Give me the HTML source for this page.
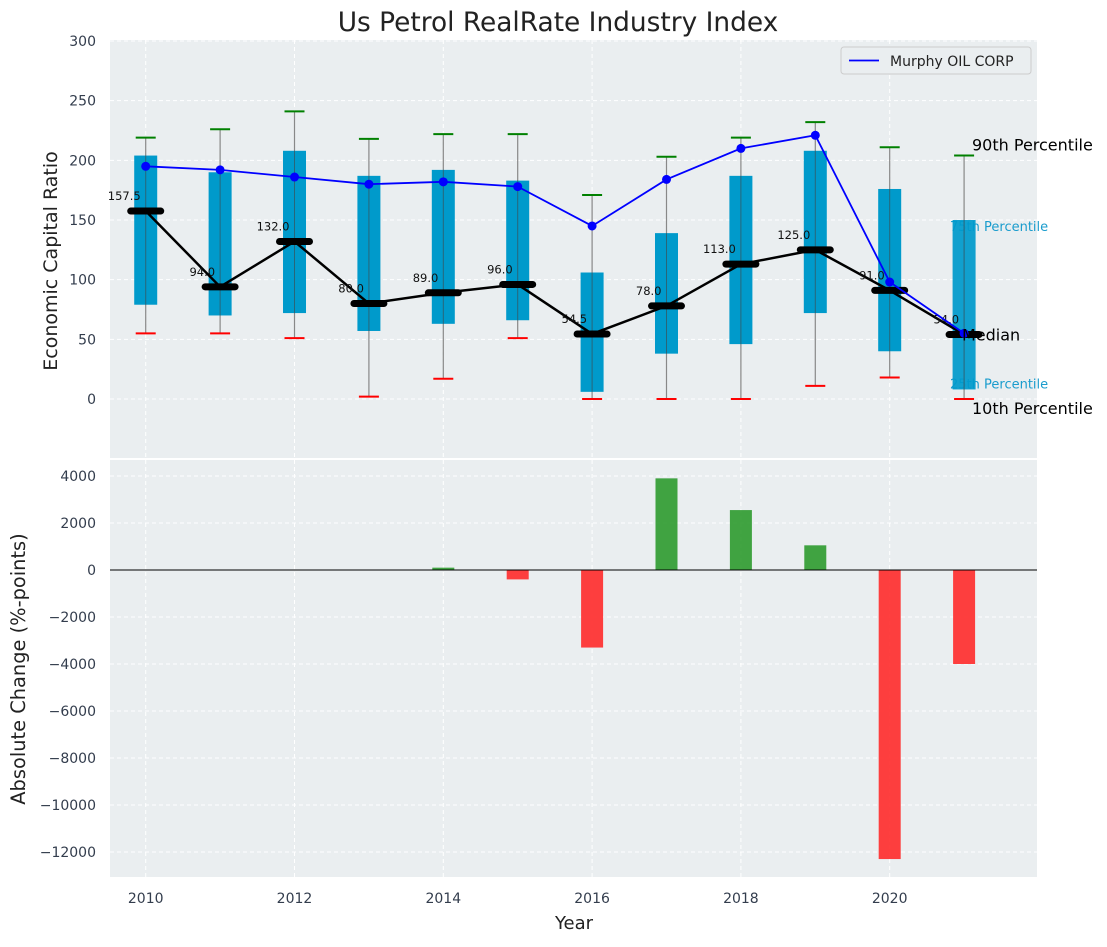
<!DOCTYPE html>
<html><head><meta charset="utf-8"><style>
body{margin:0;background:#fff;font-family:"Liberation Sans","DejaVu Sans",sans-serif}
svg text{font-family:"DejaVu Sans","Liberation Sans",sans-serif}
</style></head><body>
<svg id="c" width="1107" height="942" xmlns="http://www.w3.org/2000/svg"></svg>
<script>
const years=[2010,2011,2012,2013,2014,2015,2016,2017,2018,2019,2020,2021];
const boxLow=[79,70,72,57,63,66,6,38,46,72,40,8];
const boxHigh=[204,190,208,187,192,183,106,139,187,208,176,150];
const whiskLow=[55,55,51,2,17,51,0,0,0,11,18,0];
const whiskHigh=[219,226,241,218,222,222,171,203,219,232,211,204];
const medians=[157.5,94,132,80,89,96,54.5,78,113,125,91,54];
const murphy=[195,192,186,180,182,178,145,184,210,221,98,55];
const changes=[0,0,0,0,100,-400,-3300,3900,2550,1050,-12300,-4000];
const topTicks=[0,50,100,150,200,250,300];
const botTicks=[-12000,-10000,-8000,-6000,-4000,-2000,0,2000,4000];
const xTicks=[2010,2012,2014,2016,2018,2020];

const NS="http://www.w3.org/2000/svg";const svg=document.getElementById('c');
function el(t,a,txt,p){const e=document.createElementNS(NS,t);for(const k in a)e.setAttribute(k,a[k]);if(txt!==undefined)e.textContent=txt;(p||svg).appendChild(e);return e;}
const L=110,R=1037,T1=40,B1=458,T2=460,B2=877;
const x=v=>L+(v-2009.52)/(2021.98-2009.52)*(R-L);
const y1=v=>399-v*(399-41)/300;
const y2=v=>570-v*(570-476)/4000;
let e=el('text',{x:558,y:31,'text-anchor':'middle','font-size':26.4,fill:'#222'},'Us Petrol RealRate Industry Index');

e=el('rect',{x:L,y:T1,width:R-L,height:B1-T1,fill:'#eaeef0'});

e=el('rect',{x:L,y:T2,width:R-L,height:B2-T2,fill:'#eaeef0'});

for(const t of xTicks){
  el('line',{x1:x(t),x2:x(t),y1:T1,y2:B1,stroke:'#fff','stroke-dasharray':'4,3','stroke-width':1});
  el('line',{x1:x(t),x2:x(t),y1:T2,y2:B2,stroke:'#fff','stroke-dasharray':'4,3','stroke-width':1});
  e=el('text',{x:x(t),y:903,'text-anchor':'middle','font-size':14,fill:'#333d4d'},t);
  
}
for(const t of topTicks){
  el('line',{x1:L,x2:R,y1:y1(t),y2:y1(t),stroke:'#fff','stroke-dasharray':'4,3'});
  e=el('text',{x:96,y:y1(t)+5,'text-anchor':'end','font-size':14,fill:'#333d4d'},t);
  
}
for(const t of botTicks){
  el('line',{x1:L,x2:R,y1:y2(t),y2:y2(t),stroke:'#fff','stroke-dasharray':'4,3'});
  e=el('text',{x:96,y:y2(t)+5,'text-anchor':'end','font-size':14,fill:'#333d4d'},t<0?'\u2212'+(-t):t);
  
}
const last=years.length-1;
e=el('text',{x:950,y:y1(boxHigh[last])+11,'font-size':13,fill:'#1a9ccd'},'75th Percentile');

e=el('text',{x:950,y:y1(boxLow[last])-1,'font-size':13,fill:'#1a9ccd'},'25th Percentile');

years.forEach((yr,i)=>{
  const cx=x(yr);
  e=el('line',{x1:cx,x2:cx,y1:y1(whiskLow[i]),y2:y1(whiskHigh[i]),stroke:'#888','stroke-width':1.2});
  
  e=el('rect',{x:cx-11.5,y:y1(boxHigh[i]),width:23,height:y1(boxLow[i])-y1(boxHigh[i]),fill:'#009acb','fill-opacity':yr===years[last]?0.93:1});
  
  el('line',{x1:cx,x2:cx,y1:y1(boxLow[i]),y2:y1(boxHigh[i]),stroke:'#444','stroke-width':1,opacity:0.6});
  e=el('line',{x1:cx-10,x2:cx+10,y1:y1(whiskHigh[i]),y2:y1(whiskHigh[i]),stroke:'green','stroke-width':2});
  
  e=el('line',{x1:cx-10,x2:cx+10,y1:y1(whiskLow[i]),y2:y1(whiskLow[i]),stroke:'red','stroke-width':2});
  
});
e=el('polyline',{points:years.map((yr,i)=>x(yr)+','+y1(medians[i])).join(' '),fill:'none',stroke:'#000','stroke-width':2.5});

years.forEach((yr,i)=>{
  const cx=x(yr),cy=y1(medians[i]);
  e=el('line',{x1:cx-15,x2:cx+15,y1:cy,y2:cy,stroke:'#000','stroke-width':7,'stroke-linecap':'round'});
  
  e=el('text',{x:cx-5,y:cy-11,'text-anchor':'end','font-size':11.5,fill:'#111'},medians[i].toFixed(1));
  
});
e=el('polyline',{points:years.map((yr,i)=>x(yr)+','+y1(murphy[i])).join(' '),fill:'none',stroke:'#0000ff','stroke-width':1.8});

years.forEach((yr,i)=>{
  e=el('circle',{cx:x(yr),cy:y1(murphy[i]),r:4.5,fill:'#0000ff'});
  
});
e=el('text',{x:972,y:y1(whiskHigh[last])-5,'font-size':16,fill:'#000'},'90th Percentile');

e=el('text',{x:962,y:y1(medians[last])+6,'font-size':16,fill:'#000'},'Median');

e=el('text',{x:972,y:y1(whiskLow[last])+15,'font-size':16,fill:'#000'},'10th Percentile');

e=el('g',{});
el('rect',{x:841,y:47,width:190,height:27,rx:3,fill:'#eaeef0',stroke:'#ccc'},undefined,e);
el('line',{x1:849,x2:879,y1:60.5,y2:60.5,stroke:'#0000ff','stroke-width':1.8},undefined,e);
el('text',{x:890,y:66,'font-size':14,fill:'#222'},'Murphy OIL CORP',e);
years.forEach((yr,i)=>{
  const v=changes[i];if(v===0)return;
  const a=y2(Math.max(v,0)),b=y2(Math.min(v,0));
  e=el('rect',{x:x(yr)-11,y:a,width:22,height:b-a,fill:v>0?'#2e9a2e':'#ff2a2a',opacity:0.9});
  
});
el('line',{x1:L,x2:R,y1:y2(0),y2:y2(0),stroke:'#000','stroke-width':1});
e=el('text',{x:574,y:929,'text-anchor':'middle','font-size':18,fill:'#222'},'Year');

e=el('text',{x:0,y:0,transform:'translate(57,261) rotate(-90)','text-anchor':'middle','font-size':19,fill:'#222'},'Economic Capital Ratio');

e=el('text',{x:0,y:0,transform:'translate(25,669) rotate(-90)','text-anchor':'middle','font-size':19.4,fill:'#222'},'Absolute Change (%-points)');

</script>
</body></html>
